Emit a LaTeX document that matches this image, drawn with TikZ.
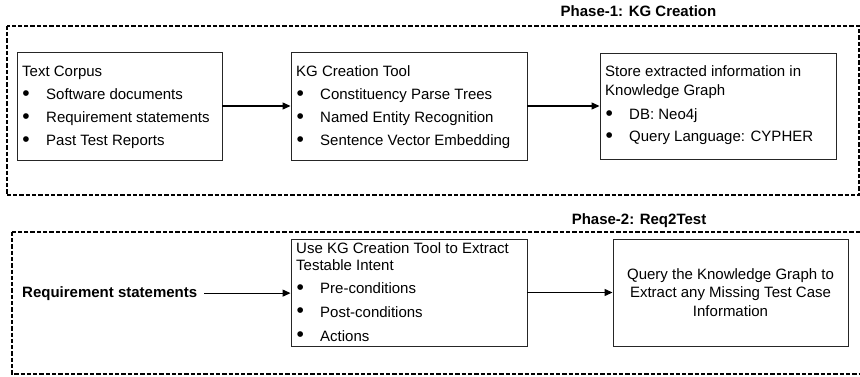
\documentclass[tikz,border=0pt]{standalone}
\usepackage{fontspec}
\setmainfont{Liberation Sans}
\usetikzlibrary{arrows.meta}
\newcommand\bitem[1]{\makebox[24pt][l]{\hspace{0.3pt}{\fontsize{21}{21}\selectfont\raisebox{-0.9pt}{\textbullet}}}#1}
\begin{document}
\begin{tikzpicture}[x=1pt,y=-1pt,
  phase/.style={draw=black, line width=2pt, dash pattern=on 4.3pt off 2pt},
  box/.style={draw=black!85, line width=0.9pt, inner sep=0pt},
  ln/.style={anchor=base west, inner sep=0pt, font=\fontsize{15}{18}\selectfont},
  ttl/.style={anchor=base, inner sep=0pt, font=\fontsize{15}{18}\selectfont\bfseries},
  arr/.style={draw=black, line width=1.2pt, -{Triangle[length=8pt,width=7pt]}}]
\clip (0,0) rectangle (860,377);
% phase frames
\draw[phase] (6.5,25.7) rectangle (858.8,195.5);
\draw[phase] (11.7,231.7) rectangle (870,374);
\node[ttl] (p1) at (638.5,17) {Phase-1: KG Creation};
\node[ttl] (p2) at (639,225) {Phase-2: Req2Test};
% phase 1 boxes
\node[box, minimum width=205pt, minimum height=108pt] (b1) at (119.5,106) {};
\node[box, minimum width=236pt, minimum height=108pt] (b2) at (409,106) {};
\node[box, minimum width=236pt, minimum height=106pt] (b3) at (718,106) {};
\node[ln] (t11) at (22,76.5) {Text Corpus};
\node[ln] (t12) at (22,99.5) {\bitem{Software documents}};
\node[ln] (t13) at (22,122.5) {\bitem{Requirement statements}};
\node[ln] (t14) at (22,145.5) {\bitem{Past Test Reports}};
\node[ln] (t21) at (296,76.5) {KG Creation Tool};
\node[ln] (t22) at (296,99.5) {\bitem{Constituency Parse Trees}};
\node[ln] (t23) at (296,122.5) {\bitem{Named Entity Recognition}};
\node[ln] (t24) at (296,145.5) {\bitem{Sentence Vector Embedding}};
\node[ln] (t31) at (605,77) {Store extracted information in};
\node[ln] (t32) at (605,96) {Knowledge Graph};
\node[ln] (t33) at (605,120) {\bitem{DB: Neo4j}};
\node[ln] (t34) at (605,142) {\bitem{Query Language: CYPHER}};
\draw[arr] (b1) -- (b2);
\draw[arr] (b2) -- (b3);
% phase 2
\node[ttl, anchor=base west] (rs) at (22,297) {Requirement statements};
\node[box, minimum width=236pt, minimum height=107pt] (b4) at (409,292.5) {};
\node[box, minimum width=235pt, minimum height=107pt, align=center,
  font=\fontsize{15}{18.5}\selectfont] (b5) at (730.5,292.5)
  {Query the Knowledge Graph to\\Extract any Missing Test Case\\Information};
\node[ln] (t41) at (296,253) {Use KG Creation Tool to Extract};
\node[ln] (t42) at (296,270.5) {Testable Intent};
\node[ln] (t43) at (296,293.5) {\bitem{Pre-conditions}};
\node[ln] (t44) at (296,317) {\bitem{Post-conditions}};
\node[ln] (t45) at (296,341) {\bitem{Actions}};
\draw[arr] ([xshift=7pt]rs.east) -- (rs.east -| b4.west);
\draw[arr] (b4) -- (b5);
\end{tikzpicture}
\end{document}
